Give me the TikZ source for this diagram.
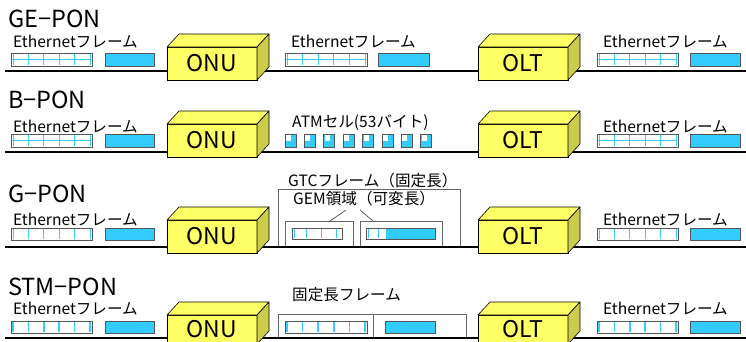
\documentclass[tikz,border=0pt]{standalone}
\usepackage{fontspec}
\setmainfont{Noto Sans CJK JP}
\usetikzlibrary{calc}

\definecolor{frameblue}{HTML}{33CCFF}
\definecolor{devyellow}{HTML}{FFFF66}
\definecolor{devside}{HTML}{CCCC4C}
\definecolor{edgegray}{HTML}{555555}

\tikzset{
  wire/.style={line width=2pt, black},
  hframe/.style={draw=edgegray, fill=white, line width=0.8pt, inner sep=0pt, outer sep=0pt},
  bframe/.style={draw=edgegray, fill=frameblue, line width=0.8pt, inner sep=0pt, outer sep=0pt},
  cyanline/.style={draw=frameblue, line width=1pt},
  container/.style={draw=black!60, fill=white, line width=0.8pt, inner sep=0pt, outer sep=0pt},
  devfront/.style={draw=black, fill=devyellow, line width=0.6pt, inner sep=0pt, outer sep=0pt,
                   font=\fontsize{23}{26}\selectfont},
  devtop/.style={draw=black, fill=devyellow, line width=0.6pt, line join=round},
  devright/.style={draw=black, fill=devside, line width=0.6pt, line join=round},
  title/.style={anchor=base west, inner sep=0pt, font=\fontsize{23.5}{26}\selectfont},
  lbl/.style={anchor=base west, inner sep=0pt, font=\fontsize{15.6}{18}\selectfont},
  leader/.style={draw=black!70, line width=0.7pt},
}

% Ethernet frame split into five cells: name, x, y, width, height, midline (1/0), cell line width
\newcommand{\ethframe}[7]{%
  \node[hframe, minimum width=#4pt, minimum height=#5pt, anchor=north west] (#1) at (#2,#3) {};
  \foreach \k in {0,...,5}{%
    \pgfmathsetmacro{\xx}{#2+2+\k*(#4-4)/5}
    \draw[cyanline, line width=#7] (\xx,#3+1) -- (\xx,#3+#5-1);
  }
  \ifnum#6=1 \draw[cyanline] (#2+1,#3+#5/2) -- (#2+#4-1,#3+#5/2);\fi
  \draw[draw=edgegray, line width=0.8pt] (#1.north west) rectangle (#1.south east);
}
% Plain blue frame: name, x, y, width, height
\newcommand{\blueframe}[5]{%
  \node[bframe, minimum width=#4pt, minimum height=#5pt, anchor=north west] (#1) at (#2,#3) {};
}
% Yellow equipment box: [front height], name, x, y of front top, label
\newcommand{\device}[5][33]{%
  \node[devfront, minimum width=90pt, minimum height=#1pt, anchor=north west] (#2) at (#3,#4) {#5};
  \draw[devtop] (#2.north west) -- ++(12,-13) -- ++(90,0) -- (#2.north east) -- cycle;
  \draw[devright] (#2.north east) -- ++(12,-13) -- ++(0,#1) -- (#2.south east) -- cycle;
}

\begin{document}
\begin{tikzpicture}[x=1pt,y=-1pt]
\useasboundingbox (0,0) rectangle (746,341);
\clip (0,0) rectangle (746,341);

% ---------------- GE-PON ----------------
\node[title] (t1) at (8,27) {GE−PON};
\coordinate (w1s) at (5,71);
\coordinate (w1e) at (746,71);
\draw[wire] (w1s) -- (w1e);
\node[lbl] (l1a) at (13,47) {Ethernetフレーム};
\ethframe{f1a}{11}{53}{81}{13}{1}{1pt}
\blueframe{f1b}{105}{53}{49}{13}
\device{onu1}{167}{47}{ONU}
\node[lbl] (l1b) at (291,47) {Ethernetフレーム};
\ethframe{f1c}{285}{53}{82}{13}{1}{1pt}
\blueframe{f1d}{378}{53}{51}{13}
\device{olt1}{478}{47}{OLT}
\node[lbl] (l1c) at (603,47) {Ethernetフレーム};
\ethframe{f1e}{597}{53}{81}{13}{1}{1pt}
\blueframe{f1f}{690}{53}{50}{13}

% ---------------- B-PON ----------------
\node[title] (t2) at (8,108) {B−PON};
\coordinate (w2s) at (5,152);
\coordinate (w2e) at (746,152);
\draw[wire] (w2s) -- (w2e);
\node[lbl] (l2a) at (13,132) {Ethernetフレーム};
\ethframe{f2a}{11}{134}{81}{13}{1}{1pt}
\blueframe{f2b}{105}{134}{49}{13}
\device{onu2}{167}{124}{ONU}
\node[lbl] (l2b) at (292,127) {ATMセル(53バイト)};
% ATM cells: blue payload with a white header corner
\foreach \k in {0,...,7}{%
  \pgfmathsetmacro{\cx}{285+\k*19.4}
  \node[bframe, minimum width=11pt, minimum height=13pt, anchor=north west] (atm\k) at (\cx,134) {};
  \fill[white] ($(atm\k.north west)+(1,1)$) rectangle ++(5,6);
}
\device{olt2}{478}{124}{OLT}
\node[lbl] (l2c) at (603,132) {Ethernetフレーム};
\ethframe{f2e}{597}{134}{81}{13}{1}{1pt}
\blueframe{f2f}{690}{134}{50}{13}

% ---------------- G-PON ----------------
\node[title] (t3) at (8,202) {G−PON};
\node[lbl] (l3g) at (288,186) {GTCフレーム（固定長）};
\node[container, minimum width=182pt, minimum height=58pt, anchor=north west] (gtc) at (278,189) {};
\node[lbl] (l3m) at (293,204) {GEM領域（可変長）};
\node[container, minimum width=68pt, minimum height=26pt, anchor=north west] (gem1) at (285,221) {};
\node[container, minimum width=82pt, minimum height=26pt, anchor=north west] (gem2) at (360,221) {};
\coordinate (ld1) at (346,210);
\coordinate (ld2) at (360,210);
\coordinate (gt1) at (330,221);
\coordinate (gt2) at (373,221);
\draw[leader] (ld1) -- (gt1);
\draw[leader] (ld2) -- (gt2);
\coordinate (w3s) at (5,247);
\coordinate (w3e) at (746,247);
\draw[wire] (w3s) -- (w3e);
% partial frame carried in the first GEM
\node[hframe, minimum width=50pt, minimum height=11pt, anchor=north west] (p1) at (292,228) {};
\foreach \xx in {294,306,321,336}{\draw[cyanline] (\xx,229) -- (\xx,238);}
\draw[draw=edgegray, line width=0.8pt] (p1.north west) rectangle (p1.south east);
% frame tail and next frame in the second GEM
\node[hframe, minimum width=69pt, minimum height=11pt, anchor=north west] (p2) at (366,228) {};
\foreach \xx in {368,378}{\draw[cyanline] (\xx,229) -- (\xx,238);}
\fill[frameblue] (386,228) rectangle (435,239);
\draw[draw=edgegray, line width=0.8pt] (p2.north west) rectangle (p2.south east);
\node[lbl] (l3a) at (13,225) {Ethernetフレーム};
\ethframe{f3a}{11}{228}{81}{12}{0}{1pt}
\blueframe{f3b}{105}{228}{49}{12}
\device{onu3}{167}{220}{ONU}
\device{olt3}{478}{220}{OLT}
\node[lbl] (l3c) at (603,225) {Ethernetフレーム};
\ethframe{f3e}{597}{228}{81}{12}{0}{1pt}
\blueframe{f3f}{690}{228}{50}{12}

% ---------------- STM-PON ----------------
\node[title] (t4) at (8,295) {STM−PON};
\node[lbl] (l4m) at (292,300) {固定長フレーム};
\node[container, minimum width=188pt, minimum height=24pt, anchor=north west] (fix) at (278,314) {};
\coordinate (dv1) at (373,314);
\coordinate (dv2) at (373,338);
\draw[draw=black!60, line width=0.8pt] (dv1) -- (dv2);
\coordinate (w4s) at (5,338);
\coordinate (w4e) at (746,338);
\draw[wire] (w4s) -- (w4e);
\node[lbl] (l4a) at (13,314) {Ethernetフレーム};
\ethframe{f4a}{11}{321}{81}{12}{0}{1.6pt}
\blueframe{f4b}{105}{321}{49}{12}
\device[29]{onu4}{167}{315}{ONU}
\ethframe{f4c}{285}{321}{82}{12}{0}{1.6pt}
\blueframe{f4d}{385}{321}{50}{12}
\device[29]{olt4}{478}{315}{OLT}
\node[lbl] (l4c) at (603,314) {Ethernetフレーム};
\ethframe{f4e}{597}{321}{81}{12}{0}{1.6pt}
\blueframe{f4f}{690}{321}{50}{12}
\end{tikzpicture}
\end{document}
